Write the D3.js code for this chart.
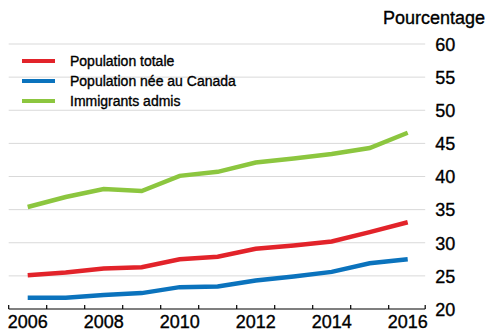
<!DOCTYPE html>
<html>
<head>
<meta charset="utf-8">
<script src="https://cdn.jsdelivr.net/npm/d3@7"></script>
<style>
  body { margin: 0; background: #fff; }
  text { font-family: "Liberation Sans", Arial, sans-serif; fill: #000; stroke: #000; stroke-width: 0.35px; }
</style>
</head>
<body>
<div id="chart"></div>
<script>
// data
var years = [2006, 2007, 2008, 2009, 2010, 2011, 2012, 2013, 2014, 2015, 2016];
var totale = [25.1, 25.5, 26.1, 26.3, 27.5, 27.9, 29.1, 29.6, 30.2, 31.6, 33.1];
var neeCanada = [21.7, 21.7, 22.1, 22.4, 23.3, 23.4, 24.3, 24.9, 25.6, 26.9, 27.5];
var immigrants = [35.4, 36.9, 38.1, 37.8, 40.1, 40.7, 42.1, 42.7, 43.4, 44.3, 46.6];
var yTicks = [20, 25, 30, 35, 40, 45, 50, 55, 60];
var xLabels = [2006, 2008, 2010, 2012, 2014, 2016];

var series = [
  {name: "Population totale", values: totale, color: "#e2232a"},
  {name: "Population née au Canada", values: neeCanada, color: "#0b73bd"},
  {name: "Immigrants admis", values: immigrants, color: "#8cc63f"}
];

var W = 487, H = 331;
var plotLeft = 8.7, plotRight = 426.7, plotTop = 44, plotBottom = 309;
var axisEnd = plotRight - 1.5;

var svg = d3.select("#chart").append("svg")
  .attr("width", W)
  .attr("height", H);

var x = d3.scaleBand()
  .domain(years)
  .range([plotLeft, plotRight])
  .padding(0);

var y = d3.scaleLinear()
  .domain([20, 60])
  .range([plotBottom, plotTop]);

// gridlines
svg.append("g")
  .selectAll("line")
  .data(yTicks.filter(function(d) { return d > 20; }))
  .enter().append("line")
    .attr("x1", plotLeft)
    .attr("x2", axisEnd)
    .attr("y1", function(d) { return y(d); })
    .attr("y2", function(d) { return y(d); })
    .attr("stroke", "#d9d9d9")
    .attr("stroke-width", 1);

// y axis on the right, labels only
var yAxis = svg.append("g")
  .attr("transform", "translate(" + axisEnd + ",0)")
  .call(d3.axisRight(y).tickValues(yTicks).tickSize(0).tickPadding(10));
yAxis.select(".domain").remove();
yAxis.selectAll("text")
  .attr("fill", "#000")
  .style("font-size", "18px")
  .style("font-family", "'Liberation Sans', Arial, sans-serif")
  .attr("dy", "0.35em");

svg.append("text")
  .attr("x", 485)
  .attr("y", 24)
  .attr("text-anchor", "end")
  .style("font-size", "18px")
  .text("Pourcentage");

// x axis: ticks at band edges, labels at band centres
var xg = svg.append("g")
  .attr("transform", "translate(0," + plotBottom + ")");
xg.append("line")
  .attr("x1", plotLeft)
  .attr("x2", axisEnd)
  .attr("stroke", "#000")
  .attr("stroke-width", 1.2);
xg.selectAll(".tick")
  .data(years.concat([null]))
  .enter().append("line")
    .attr("x1", function(d) { return d === null ? axisEnd : x(d); })
    .attr("x2", function(d) { return d === null ? axisEnd : x(d); })
    .attr("y1", 0)
    .attr("y2", -4)
    .attr("stroke", "#000")
    .attr("stroke-width", 1.2);
xg.selectAll(".lbl")
  .data(xLabels)
  .enter().append("text")
    .attr("x", function(d) { return x(d) + x.bandwidth() / 2; })
    .attr("y", 19)
    .attr("text-anchor", "middle")
    .style("font-size", "18px")
    .text(function(d) { return d; });

// lines
var line = d3.line()
  .x(function(d, i) { return x(years[i]) + x.bandwidth() / 2; })
  .y(function(d) { return y(d); });

svg.selectAll(".series")
  .data(series)
  .enter().append("path")
    .attr("d", function(d) { return line(d.values); })
    .attr("fill", "none")
    .attr("stroke", function(d) { return d.color; })
    .attr("stroke-width", 4.5);

// legend
var legend = svg.selectAll(".legend")
  .data(series)
  .enter().append("g")
    .attr("transform", function(d, i) { return "translate(22," + (61 + i * 20) + ")"; });
legend.append("line")
  .attr("x1", 0)
  .attr("x2", 33)
  .attr("stroke", function(d) { return d.color; })
  .attr("stroke-width", 4);
legend.append("text")
  .attr("x", 48)
  .attr("y", 5)
  .style("font-size", "14px")
  .text(function(d) { return d.name; });
</script>
</body>
</html>
